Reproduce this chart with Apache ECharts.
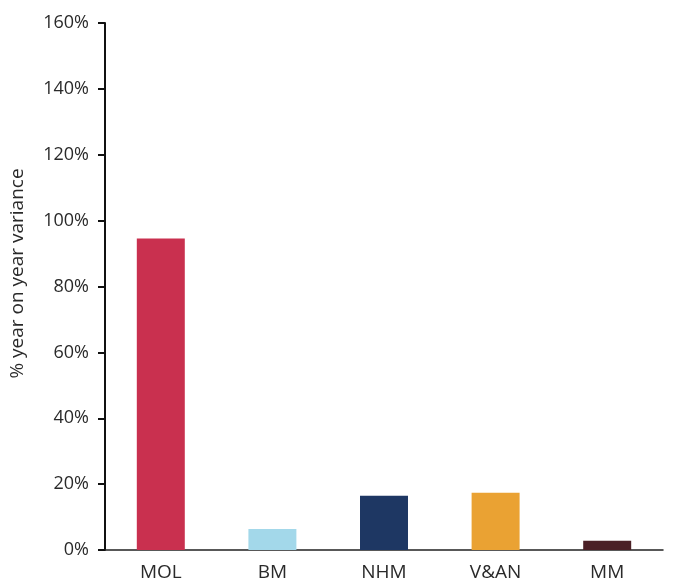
<!DOCTYPE html>
<html>
<head>
<meta charset="utf-8">
<script src="https://cdn.jsdelivr.net/npm/echarts@6/dist/echarts.min.js"></script>
<style>html,body{margin:0;padding:0;background:#fff;}#c{width:677px;height:583px;}</style>
</head>
<body>
<div id="c"></div>
<script>
const categories = ["MOL", "BM", "NHM", "V&AN", "MM"];
const values = [94.6, 6.4, 16.5, 17.4, 2.8];
const barColors = ["#c9304f", "#a3d8ea", "#1e3763", "#eaa233", "#4b2026"];
const yTicks = [0, 20, 40, 60, 80, 100, 120, 140, 160];

const chart = echarts.init(document.getElementById('c'), null, {renderer: 'canvas'});
const font = '"Open Sans", "DejaVu Sans", sans-serif';
chart.setOption({
  animation: false,
  backgroundColor: '#fff',
  grid: {left: 102, right: 14, top: 23, bottom: 33},
  xAxis: {
    type: 'category',
    data: categories,
    axisLine: {lineStyle: {color: '#222', width: 1.5}},
    axisTick: {show: false},
    axisLabel: {color: '#2a2a2a', fontSize: 19, fontFamily: font, margin: 13}
  },
  yAxis: {
    type: 'value',
    min: yTicks[0],
    max: yTicks[yTicks.length - 1],
    interval: 20,
    name: '% year on year variance',
    nameLocation: 'middle',
    nameGap: 78,
    nameTextStyle: {color: '#2a2a2a', fontSize: 19, fontFamily: font, padding: [0, 0, 0, 26]},
    axisLine: {show: true, lineStyle: {color: '#111', width: 2}},
    axisTick: {show: true, length: 7, lineStyle: {color: '#111', width: 2}},
    splitLine: {show: false},
    axisLabel: {color: '#2a2a2a', fontSize: 18, fontFamily: font, margin: 16, formatter: v => v + '%'}
  },
  series: [{
    type: 'bar',
    barWidth: '43%',
    data: values.map((v, i) => ({value: v, itemStyle: {color: barColors[i]}}))
  }]
});
</script>
</body>
</html>
